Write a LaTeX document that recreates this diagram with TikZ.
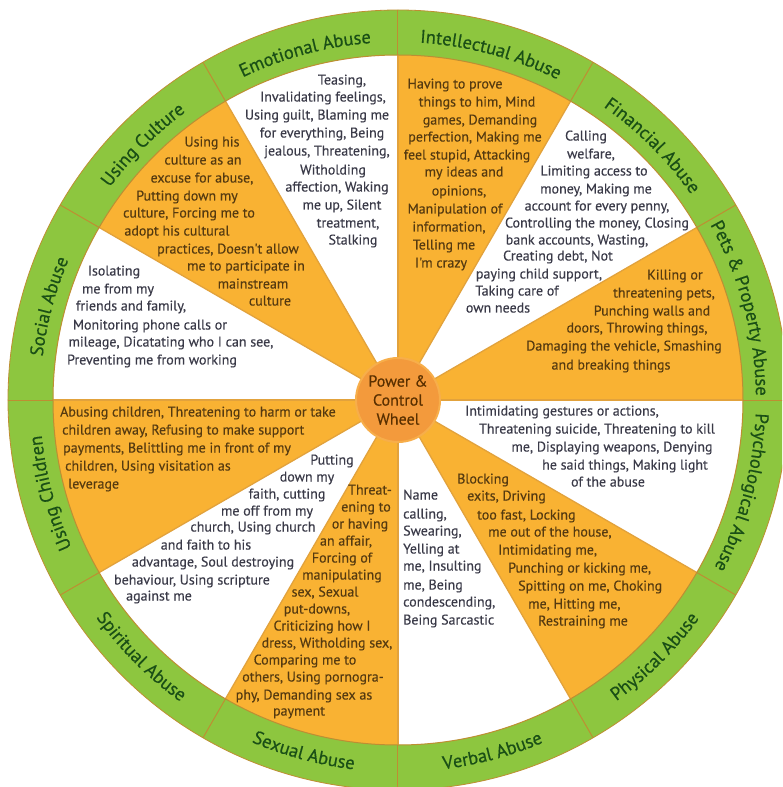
\documentclass[tikz,border=0pt]{standalone}
\usepackage{fontspec}
\setmainfont{PT Sans}
\newfontfamily\bodyff[FakeBold=0.35]{PT Sans}
\newfontfamily\ringff[FakeBold=0.5]{PT Sans}
\usetikzlibrary{decorations.text}
\definecolor{wgreen}{HTML}{8DC63F}
\definecolor{worange}{HTML}{F9B233}
\definecolor{wcenter}{HTML}{F39A3C}
\definecolor{hubrim}{HTML}{F7AE4A}
\definecolor{wline}{HTML}{E2A23C}
\definecolor{wringline}{HTML}{BE8E32}
\definecolor{tgreen}{HTML}{1A4F16}
\definecolor{tbrown}{HTML}{553A10}
\definecolor{tgray}{HTML}{3A3A48}
\definecolor{tcenter}{HTML}{5A3000}
\newcommand{\bodyfont}{\bodyff\fontsize{14}{16}\selectfont}
\newcommand{\ringfont}{\ringff\fontsize{18.5}{20}\selectfont}
\tikzset{
  ob/.style={font=\bodyfont, text=tbrown, inner sep=0pt, anchor=mid},
  wb/.style={font=\bodyfont, text=tgray, inner sep=0pt, anchor=mid},
  obw/.style={ob, anchor=mid west},
  wbw/.style={wb, anchor=mid west},
  hubnode/.style={circle, fill=wcenter, draw=hubrim, line width=2pt, minimum size=84pt,
    inner sep=0pt, align=center, text=tcenter, font=\bodyff\fontsize{16}{19}\selectfont},
  ringout/.style={decorate, decoration={text along path, text align=center,
    text color=tgreen, text={|\ringfont|#1}}},
  ringin/.style={decorate, decoration={text along path, text align=center,
    text color=tgreen, text={|\ringfont|#1}}}
}
\begin{document}
\begin{tikzpicture}[x=1pt,y=1pt]
\useasboundingbox (-398,-387) rectangle (384,400);
\clip (-398,-387) rectangle (384,400);
\fill[white] (-398,-387) rectangle (384,400);
% sectors
\foreach \i in {0,2,4,6,8,10}{
  \fill[worange] (0,0) -- (\i*30:345) arc[start angle=\i*30, end angle=\i*30+30, radius=345] -- cycle;
}
% ring
\fill[wgreen, even odd rule] (0,0) circle[radius=390] (0,0) circle[radius=345];
\foreach \a in {0,30,...,330}{
  \draw[wline, line width=1.3pt] (\a:40) -- (\a:345);
  \draw[wringline, line width=1pt] (\a:345) -- (\a:390);
}
\draw[wringline, line width=1pt] (0,0) circle[radius=345];
\draw[wringline, line width=0.8pt] (0,0) circle[radius=390];
% ring labels
\path[ringout={Pets {\&} Property Abuse}] (55:358) arc[start angle=55, end angle=-25, radius=358];
\path[ringout={Financial Abuse}] (85:358) arc[start angle=85, end angle=5, radius=358];
\path[ringout={Intellectual Abuse}] (115:358) arc[start angle=115, end angle=35, radius=358];
\path[ringout={Emotional Abuse}] (145:358) arc[start angle=145, end angle=65, radius=358];
\path[ringout={Using Culture}] (175:358) arc[start angle=175, end angle=95, radius=358];
\path[ringout={Social Abuse}] (205:358) arc[start angle=205, end angle=125, radius=358];
\path[ringout={Using Children}] (235:358) arc[start angle=235, end angle=155, radius=358];
\path[ringout={Psychological Abuse}] (385:358) arc[start angle=385, end angle=305, radius=358];
\path[ringin={Spiritual Abuse}] (185:372) arc[start angle=185, end angle=265, radius=372];
\path[ringin={Sexual Abuse}] (215:372) arc[start angle=215, end angle=295, radius=372];
\path[ringin={Verbal Abuse}] (245:372) arc[start angle=245, end angle=325, radius=372];
\path[ringin={Physical Abuse}] (275:372) arc[start angle=275, end angle=355, radius=372];
% hub
\node[hubnode] (hub) at (0,0) {Power \&\\Control\\Wheel};
% texts in image coordinates
\begin{scope}[shift={(-398pt,400pt)}, x=1pt, y=-1pt]
% Emotional
\node[wb] (em1) at (342,82) {Teasing,};
\node[wb] (em2) at (323,99) {Invalidating feelings,};
\node[wb] (em3) at (317,117) {Using guilt, Blaming me};
\node[wb] (em4) at (322,135) {for everything, Being};
\node[wb] (em5) at (327,153) {jealous, Threatening,};
\node[wb] (em6) at (333,172) {Witholding};
\node[wb] (em7) at (337,189) {affection, Waking};
\node[wb] (em8) at (342,207) {me up, Silent};
\node[wb] (em9) at (348,225) {treatment,};
\node[wb] (em10) at (353,242) {Stalking};
% Culture
\node[ob] (cu1) at (212,144) {Using his};
\node[ob] (cu2) at (203,162) {culture as an};
\node[ob] (cu3) at (202,180) {excuse for abuse,};
\node[ob] (cu4) at (187,198) {Putting down my};
\node[ob] (cu5) at (189,215) {culture, Forcing me to};
\node[ob] (cu6) at (177,233) {adopt his cultural};
\node[ob] (cu7) at (228,251) {practices, Doesn't allow};
\node[ob] (cu8) at (246,268) {me to participate in};
\node[ob] (cu9) at (253,286) {mainstream};
\node[ob] (cu10) at (270,303) {culture};
% Social
\node[wb] (so1) at (114,273) {Isolating};
\node[wb] (so2) at (118,291) {me from my};
\node[wb] (so3) at (131,308) {friends and family,};
\node[wb] (so4) at (150,327) {Monitoring phone calls or};
\node[wb] (so5) at (171,344) {mileage, Dicatating who I can see,};
\node[wb] (so6) at (152,362) {Preventing me from working};
% Intellectual
\node[ob] (in1) at (455,86) {Having to prove};
\node[ob] (in2) at (477,104) {things to him, Mind};
\node[ob] (in3) at (480,122) {games, Demanding};
\node[ob] (in4) at (475,139) {perfection, Making me};
\node[ob] (in5) at (467,157) {feel stupid, Attacking};
\node[ob] (in6) at (464,174) {my ideas and};
\node[ob] (in7) at (459,193) {opinions,};
\node[ob] (in8) at (455,211) {Manipulation of};
\node[ob] (in9) at (449,229) {information,};
\node[ob] (in10) at (444,247) {Telling me};
\node[ob] (in11) at (441,265) {I'm crazy};
% Financial
\node[wb] (fi1) at (586,138) {Calling};
\node[wb] (fi2) at (591,156) {welfare,};
\node[wb] (fi3) at (594,173) {Limiting access to};
\node[wb] (fi4) at (596,191) {money, Making me};
\node[wb] (fi5) at (597,208) {account for every penny,};
\node[wb] (fi6) at (597,225) {Controlling the money, Closing};
\node[wb] (fi7) at (577,242) {bank accounts, Wasting,};
\node[wb] (fi8) at (558,258) {Creating debt, Not};
\node[wb] (fi9) at (539,276) {paying child support,};
\node[wb] (fi10) at (517,293) {Taking care of};
\node[wb] (fi11) at (498,310) {own needs};
% Pets
\node[ob] (pe1) at (675,277) {Killing or};
\node[ob] (pe2) at (664,295) {threatening pets,};
\node[ob] (pe3) at (652,313) {Punching walls and};
\node[ob] (pe4) at (637,330) {doors, Throwing things,};
\node[ob] (pe5) at (624,348) {Damaging the vehicle, Smashing};
\node[ob] (pe6) at (611,367) {and breaking things};
% Children
\node[obw] (ch1) at (60,414) {Abusing children, Threatening to harm or take};
\node[obw] (ch2) at (62,432) {children away, Refusing to make support};
\node[obw] (ch3) at (63,450) {payments, Belittling me in front of my};
\node[obw] (ch4) at (65,468) {children, Using visitation as};
\node[obw] (ch5) at (68,486) {leverage};
% Spiritual
\node[wb] (sp1) at (332,462) {Putting};
\node[wb] (sp2) at (307,479) {down my};
\node[wb] (sp3) at (287,496) {faith, cutting};
\node[wb] (sp4) at (267,513) {me off from my};
\node[wb] (sp5) at (253,529) {church, Using church};
\node[wb] (sp6) at (206,547) {and faith to his};
\node[wb] (sp7) at (213,564) {advantage, Soul destroying};
\node[wb] (sp8) at (192,582) {behaviour, Using scripture};
\node[wb] (sp9) at (159,598) {against me};
% Sexual
\node[ob] (se1) at (370,492) {Threat-};
\node[ob] (se2) at (366,509) {ening to};
\node[ob] (se3) at (360,526) {or having};
\node[ob] (se4) at (346,543) {an affair,};
\node[ob] (se5) at (342,560) {Forcing of};
\node[ob] (se6) at (342,577) {manipulating};
\node[ob] (se7) at (325,594) {sex, Sexual};
\node[ob] (se8) at (317,611) {put-downs,};
\node[ob] (se9) at (322,628) {Criticizing how I};
\node[ob] (se10) at (327,645) {dress, Witholding sex,};
\node[ob] (se11) at (305,662) {Comparing me to};
\node[ob] (se12) at (313,679) {others, Using pornogra-};
\node[ob] (se13) at (304,697) {phy, Demanding sex as};
\node[ob] (se14) at (299,713) {payment};
% Verbal
\node[wbw] (ve1) at (403,497) {Name};
\node[wbw] (ve2) at (403,516) {calling,};
\node[wbw] (ve3) at (403,533) {Swearing,};
\node[wbw] (ve4) at (403,551) {Yelling at};
\node[wbw] (ve5) at (403,568) {me, Insulting};
\node[wbw] (ve6) at (403,587) {me, Being};
\node[wbw] (ve7) at (403,604) {condescending,};
\node[wbw] (ve8) at (403,622) {Being Sarcastic};
% Physical
\node[obw] (ph1) at (457,481) {Blocking};
\node[obw] (ph2) at (467,498) {exits, Driving};
\node[obw] (ph3) at (477,517) {too fast, Locking};
\node[obw] (ph4) at (488,534) {me out of the house,};
\node[obw] (ph5) at (498,552) {Intimidating me,};
\node[obw] (ph6) at (508,570) {Punching or kicking me,};
\node[obw] (ph7) at (518,588) {Spitting on me, Choking};
\node[obw] (ph8) at (528,606) {me, Hitting me,};
\node[obw] (ph9) at (538,623) {Restraining me};
% Psychological
\node[wb] (ps1) at (562,413) {Intimidating gestures or actions,};
\node[wb] (ps2) at (597,431) {Threatening suicide, Threatening to kill};
\node[wb] (ps3) at (612,449) {me, Displaying weapons, Denying};
\node[wb] (ps4) at (625,467) {he said things, Making light};
\node[wb] (ps5) at (608,484) {of the abuse};
\end{scope}
\end{tikzpicture}
\end{document}
